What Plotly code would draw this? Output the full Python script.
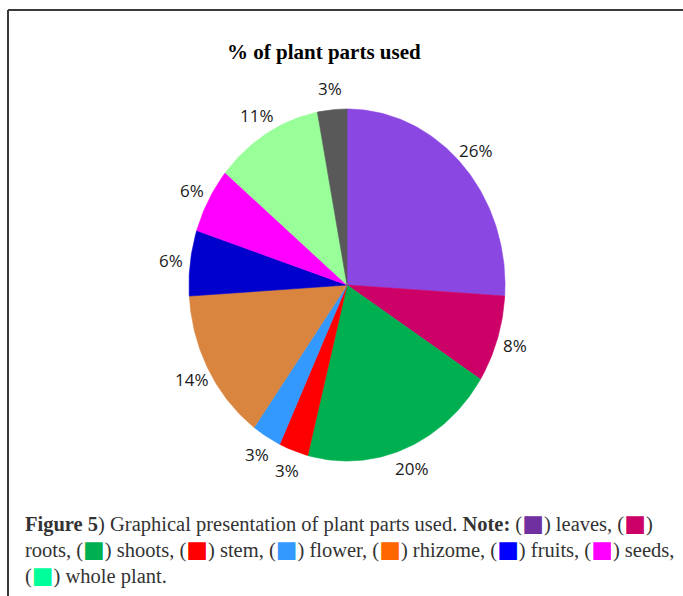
import numpy as np
import plotly.graph_objects as go

# Share of plant parts used (percent), clockwise from 12 o'clock
parts = ["leaves", "roots", "shoots", "stem", "flower", "rhizome",
         "fruits", "seeds", "whole plant", "other"]
percent = [26, 8, 20, 3, 3, 14, 6, 6, 11, 3]
slice_colors = ["#8A47E2", "#CC0066", "#00B050", "#FF0000", "#3399FF",
                "#D9843F", "#0000CC", "#FF00FF", "#99FF99", "#595959"]

# Swatch colours listed in the figure note
note_parts = ["leaves", "roots", "shoots", "stem", "flower", "rhizome",
              "fruits", "seeds", "whole plant"]
note_colors = ["#7030A0", "#CC0066", "#00B050", "#FF0000", "#3399FF",
               "#FF6600", "#0000FF", "#FF00FF", "#00FF99"]

W, H = 683, 596
CX, CY = 347, 285      # pie centre (px)
RX, RY = 158, 176      # horizontal / vertical radius (px)
LABEL_R = 1.12         # label distance, relative to radius

fig = go.Figure()

total = sum(percent)
start = 0.0
for name, val, col in zip(parts, percent, slice_colors):
    a0 = 2 * np.pi * start / total
    a1 = 2 * np.pi * (start + val) / total
    t = np.linspace(a0, a1, max(int(val * 4), 8))
    xs = np.concatenate([[CX], CX + RX * np.sin(t), [CX]])
    ys = np.concatenate([[CY], CY - RY * np.cos(t), [CY]])
    fig.add_trace(go.Scatter(
        x=xs, y=ys, mode="lines", fill="toself", fillcolor=col,
        line=dict(color=col, width=0.6), name=name, hoverinfo="name",
        showlegend=False))
    mid = (a0 + a1) / 2
    fig.add_annotation(
        x=CX + RX * LABEL_R * np.sin(mid), y=CY - RY * LABEL_R * np.cos(mid),
        text=f"{val}%", showarrow=False, xanchor="center", yanchor="middle",
        font=dict(family="Open Sans", size=17, color="#1a1a1a"))
    start += val

# Title
fig.add_annotation(x=324, y=52, text="<b>% of plant parts used</b>",
                   showarrow=False, xanchor="center", yanchor="middle",
                   font=dict(family="Liberation Serif", size=21, color="#000000"))

# Figure caption with coloured swatches
sw = {p: f'(<span style="color:{c};font-family:DejaVu Sans;font-size:23px">■</span>)'
      for p, c in zip(note_parts, note_colors)}
lines = [
    f"<b>Figure 5</b>) Graphical presentation of plant parts used. <b>Note:</b> "
    f"{sw['leaves']} leaves, {sw['roots']}",
    f"roots, {sw['shoots']} shoots, {sw['stem']} stem, {sw['flower']} flower, "
    f"{sw['rhizome']} rhizome, {sw['fruits']} fruits, {sw['seeds']} seeds,",
    f"{sw['whole plant']} whole plant.",
]
for i, ln in enumerate(lines):
    fig.add_annotation(x=23, y=523 + 26 * i, text=ln, showarrow=False,
                       xanchor="left", yanchor="middle",
                       font=dict(family="Liberation Serif", size=20.5, color="#333333"))

# Frame (top and left rules)
fig.add_shape(type="line", x0=8, x1=W, y0=10, y1=10,
              line=dict(color="#3a3a3a", width=2))
fig.add_shape(type="line", x0=8, x1=8, y0=10, y1=H,
              line=dict(color="#3a3a3a", width=2))

fig.update_xaxes(range=[0, W], visible=False, fixedrange=True)
fig.update_yaxes(range=[H, 0], visible=False, fixedrange=True)
fig.update_layout(width=W, height=H, margin=dict(l=0, r=0, t=0, b=0),
                  paper_bgcolor="white", plot_bgcolor="white")

fig.write_html("out.html")
